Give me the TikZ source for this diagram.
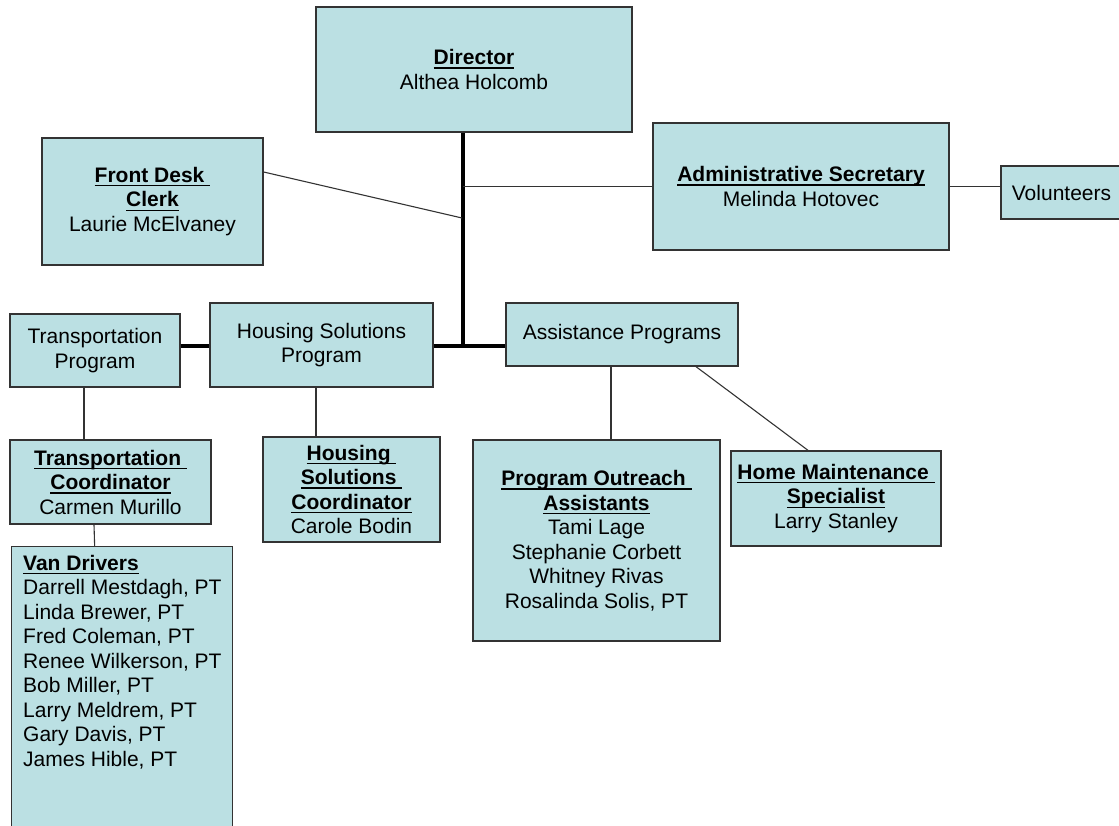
\documentclass[tikz,border=0pt]{standalone}
\usepackage{fontspec}
\setmainfont{Liberation Sans}
\usetikzlibrary{calc}
\definecolor{boxfill}{HTML}{BBE0E3}
\definecolor{edge}{HTML}{333333}
% bold heading with an underline just below the baseline
\newsavebox{\hdbox}
\newcommand{\hd}[1]{\sbox{\hdbox}{\textbf{#1}}\rlap{\rule[-4pt]{\wd\hdbox}{1.4pt}}\usebox{\hdbox}}
\newcommand{\orgfont}{\fontsize{21}{24.5}\selectfont}

\begin{document}
\begin{tikzpicture}[x=1pt,y=-1pt,
  box/.style={draw=edge, line width=1.3pt, fill=boxfill, align=center,
              inner sep=0pt, text=black, font=\orgfont},
  thin/.style={draw=edge, line width=1.1pt},
  trunk/.style={draw=black, line width=4.5pt}]
\useasboundingbox (0,0) rectangle (1119,826);
\clip (0,0) rectangle (1119,826);

% top level
\node[box, minimum width=316, minimum height=125] (dir) at (474,69.5)
  {\hd{Director}\\Althea Holcomb};
\node[box, minimum width=221, minimum height=127] (fdc) at (152.5,201.5)
  {\hd{Front Desk\ }\\\hd{Clerk}\\Laurie McElvaney};
\node[box, minimum width=296, minimum height=127] (adm) at (801,186.5)
  {\hd{Administrative Secretary}\\Melinda Hotovec};
\node[box, minimum width=121, minimum height=53] (vol) at (1061.5,192.5)
  {Volunteers};

% programs
\node[box, minimum width=170, minimum height=73] (tp) at (95,350.5)
  {Transportation\\Program};
\node[box, minimum width=223, minimum height=84] (hsp) at (321.5,345)
  {Housing Solutions\\Program};
\node[box, minimum width=232, minimum height=63] (ap) at (622,334.5)
  {Assistance Programs};

% staff
\node[box, minimum width=201, minimum height=84] (tc) at (110.5,482)
  {\hd{Transportation\ }\\\hd{Coordinator}\\Carmen Murillo};
\node[box, minimum width=177, minimum height=105] (hsc) at (351.5,489.5)
  {\hd{Housing\ }\\\hd{Solutions\ }\\\hd{Coordinator}\\Carole Bodin};
\node[box, minimum width=247, minimum height=201] (poa) at (596.5,540.5)
  {\hd{Program Outreach\ }\\\hd{Assistants}\\Tami Lage\\Stephanie Corbett\\Whitney Rivas\\Rosalinda Solis, PT};
\node[box, minimum width=210, minimum height=95] (hms) at (836,498.5)
  {\hd{Home Maintenance\ }\\\hd{Specialist}\\Larry Stanley};

% van drivers list
\node[box, anchor=north west, minimum width=221, minimum height=300] (van) at (11,546) {};
\node[anchor=north west, align=left, inner sep=0pt, font=\orgfont] (vanlist)
  at ($(van.north west)+(12,9)$)
  {\hd{Van Drivers}\\Darrell Mestdagh, PT\\Linda Brewer, PT\\Fred Coleman, PT\\
   Renee Wilkerson, PT\\Bob Miller, PT\\Larry Meldrem, PT\\Gary Davis, PT\\James Hible, PT};

% main trunk
\coordinate (spine) at (463,346);
\draw[trunk] (dir.south -| spine) -- (spine);
\draw[trunk] (hsp.east |- spine) -- (ap.west |- spine);
\draw[trunk] (tp.east |- spine) -- (hsp.west |- spine);

% thin reporting lines
\coordinate (fdj) at (462,218);
\draw[thin] ($(fdc.east)+(0,-29.5)$) -- (fdj);
\draw[thin] (adm.west -| spine) -- (adm.west);
\draw[thin] (adm.east) -- (adm.east -| vol.west);
\draw[thin] ($(tp.south)+(-11,0)$) -- ($(tc.north)+(-26.5,0)$);
\draw[thin] ($(tc.south)+(-16.5,0)$) -- ($(van.north)+(-27.5,0)$);
\draw[thin] ($(hsp.south)+(-5.5,0)$) -- ($(hsc.north)+(-35.5,0)$);
\draw[thin] ($(ap.south)+(-11,0)$) -- ($(poa.north)+(14.5,0)$);
\draw[thin] ($(ap.south)+(74,0)$) -- ($(hms.north)+(-28,0)$);
\end{tikzpicture}
\end{document}
